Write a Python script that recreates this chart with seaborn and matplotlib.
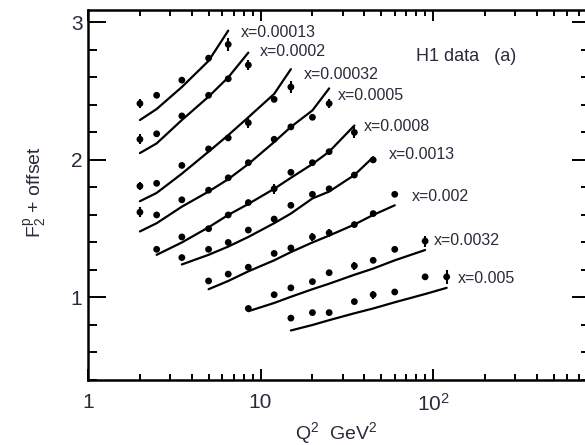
import numpy as np
import pandas as pd
import matplotlib
matplotlib.use("Agg")
import matplotlib.pyplot as plt
import seaborn as sns
from matplotlib.ticker import LogLocator, NullFormatter, MultipleLocator, FixedLocator

# ---------------- data ----------------
x_bins = ["x=0.00013", "x=0.0002", "x=0.00032", "x=0.0005", "x=0.0008",
          "x=0.0013", "x=0.002", "x=0.0032", "x=0.005"]

q2_bins = [
    [2, 2.5, 3.5, 5, 6.5],
    [2, 2.5, 3.5, 5, 6.5, 8.5],
    [2, 2.5, 3.5, 5, 6.5, 8.5, 12, 15],
    [2, 2.5, 3.5, 5, 6.5, 8.5, 12, 15, 20, 25],
    [2.5, 3.5, 5, 6.5, 8.5, 12, 15, 20, 25, 35],
    [3.5, 5, 6.5, 8.5, 12, 15, 20, 25, 35, 45],
    [5, 6.5, 8.5, 12, 15, 20, 25, 35, 45, 60],
    [8.5, 12, 15, 20, 25, 35, 45, 60, 90],
    [15, 20, 25, 35, 45, 60, 90, 120],
]

f2_bins = [
    [2.41, 2.47, 2.58, 2.74, 2.84],
    [2.15, 2.19, 2.32, 2.47, 2.59, 2.69],
    [1.81, 1.83, 1.96, 2.08, 2.16, 2.27, 2.44, 2.53],
    [1.62, 1.60, 1.71, 1.78, 1.87, 1.98, 2.15, 2.24, 2.31, 2.41],
    [1.35, 1.44, 1.50, 1.60, 1.69, 1.79, 1.91, 1.98, 2.06, 2.20],
    [1.29, 1.35, 1.40, 1.49, 1.57, 1.67, 1.75, 1.79, 1.89, 2.00],
    [1.12, 1.17, 1.22, 1.32, 1.36, 1.44, 1.47, 1.53, 1.61, 1.75],
    [0.92, 1.02, 1.07, 1.115, 1.18, 1.23, 1.27, 1.35, 1.41],
    [0.85, 0.89, 0.89, 0.97, 1.02, 1.04, 1.15, 1.15],
]

err_bins = [
    [0.03, 0.02, 0.02, 0.02, 0.05],
    [0.035, 0.02, 0.02, 0.02, 0.02, 0.035],
    [0.03, 0.02, 0.02, 0.02, 0.02, 0.035, 0.02, 0.045],
    [0.035, 0.02, 0.02, 0.02, 0.02, 0.02, 0.02, 0.02, 0.02, 0.035],
    [0.02, 0.02, 0.02, 0.02, 0.02, 0.035, 0.02, 0.02, 0.02, 0.04],
    [0.02, 0.02, 0.02, 0.02, 0.02, 0.02, 0.02, 0.02, 0.02, 0.02],
    [0.02, 0.02, 0.02, 0.02, 0.02, 0.03, 0.03, 0.02, 0.02, 0.02],
    [0.02, 0.02, 0.02, 0.02, 0.02, 0.03, 0.02, 0.02, 0.04],
    [0.02, 0.02, 0.02, 0.02, 0.03, 0.02, 0.02, 0.05],
]

fit_bins = [
    [2.29, 2.37, 2.53, 2.72, 2.94],
    [2.05, 2.12, 2.29, 2.46, 2.60, 2.78],
    [1.70, 1.76, 1.90, 2.06, 2.18, 2.31, 2.48, 2.66],
    [1.48, 1.54, 1.66, 1.77, 1.86, 1.97, 2.13, 2.24, 2.36, 2.52],
    [1.31, 1.40, 1.51, 1.60, 1.68, 1.79, 1.87, 1.97, 2.06, 2.25],
    [1.24, 1.31, 1.37, 1.44, 1.54, 1.61, 1.72, 1.77, 1.89, 2.02],
    [1.06, 1.12, 1.19, 1.27, 1.33, 1.40, 1.45, 1.53, 1.60, 1.67],
    [0.90, 0.96, 1.005, 1.06, 1.10, 1.165, 1.21, 1.27, 1.345],
    [0.76, 0.80, 0.835, 0.885, 0.92, 0.965, 1.025, 1.07],
]

x_tick_vals = [1, 10, 100]
x_tick_labels = ["1", "10", "10$^2$"]
y_tick_vals = [1, 2, 3]

# label offsets (points) relative to end of each fit line
label_offsets = [(9, -1), (8, 1), (9, -4), (6, -5), (6.5, -1),
                 (11.5, 2), (12, 6.5), (6.5, 6.5), (8, 7)]

# ---------------- build tables ----------------
rows = []
for b, (q, f, e, t) in enumerate(zip(q2_bins, f2_bins, err_bins, fit_bins)):
    for qi, fi, ei, ti in zip(q, f, e, t):
        rows.append(dict(bin=x_bins[b], Q2=qi, F2=fi, err=ei, fit=ti))
df = pd.DataFrame(rows)

# ---------------- style ----------------
sns.set_style("ticks", {"xtick.direction": "in", "ytick.direction": "in"})
plt.rcParams["font.family"] = ["Liberation Sans", "DejaVu Sans"]
plt.rcParams["mathtext.fontset"] = "custom"
plt.rcParams["mathtext.rm"] = "Liberation Sans"
plt.rcParams["mathtext.it"] = "Liberation Sans:italic"
plt.rcParams["mathtext.bf"] = "Liberation Sans:bold"
txt_color = "#2a2a3a"

fig = plt.figure(figsize=(5.85, 4.45), dpi=100)
ax = fig.add_axes([88 / 585, 65 / 445, 502 / 585, 370 / 445])

sns.lineplot(data=df, x="Q2", y="fit", units="bin", estimator=None,
             color="black", lw=1.6, ax=ax, legend=False)
ax.errorbar(df["Q2"], df["F2"], yerr=df["err"], fmt="none",
            ecolor="black", elinewidth=1.5, capsize=0, zorder=3)
sns.scatterplot(data=df, x="Q2", y="F2", color="black", s=24,
                marker="o", edgecolor="none", ax=ax, zorder=4)

ax.set_xscale("log")
ax.set_xlim(1, 813)
ax.set_ylim(0.40, 3.09)

ax.xaxis.set_major_locator(FixedLocator(x_tick_vals))
ax.set_xticklabels(x_tick_labels)
ax.xaxis.set_minor_locator(LogLocator(base=10, subs=np.arange(2, 10)))
ax.xaxis.set_minor_formatter(NullFormatter())
ax.set_yticks(y_tick_vals)
ax.set_yticklabels([str(v) for v in y_tick_vals])
ax.yaxis.set_minor_locator(MultipleLocator(0.2))

ax.tick_params(which="both", direction="in", top=True, right=True,
               width=1.4, color="black", labelsize=15, labelcolor=txt_color)
ax.tick_params(axis="x", which="major", length=8, pad=9)
ax.tick_params(axis="x", which="minor", length=4)
ax.tick_params(axis="y", which="major", length=13, pad=4)
ax.tick_params(axis="y", which="minor", length=6.5)
for s in ax.spines.values():
    s.set_linewidth(1.8)
    s.set_color("black")
# the right frame line lies just beyond the cropped picture edge
ax.spines["right"].set_visible(False)

ax.set_xlabel("Q$^2$  GeV$^2$", fontsize=14, color=txt_color)
ax.xaxis.set_label_coords(0.495, -0.143)
ax.xaxis.label.set_va("center")
ax.set_ylabel(r"$\mathrm{F}_2^{\mathrm{p}}$ + offset", fontsize=14, color=txt_color)
ax.yaxis.set_label_coords(-0.104, 0.508)
ax.yaxis.label.set_va("center")

for b, lab in enumerate(x_bins):
    ax.annotate(lab, xy=(q2_bins[b][-1], fit_bins[b][-1]),
                xytext=label_offsets[b], textcoords="offset points",
                ha="left", va="center", fontsize=11.5, color=txt_color)

ax.text(0.653, 0.873, "H1 data   (a)", transform=ax.transAxes,
        ha="left", va="center", fontsize=13, color=txt_color)

fig.savefig("out.png", dpi=100)
